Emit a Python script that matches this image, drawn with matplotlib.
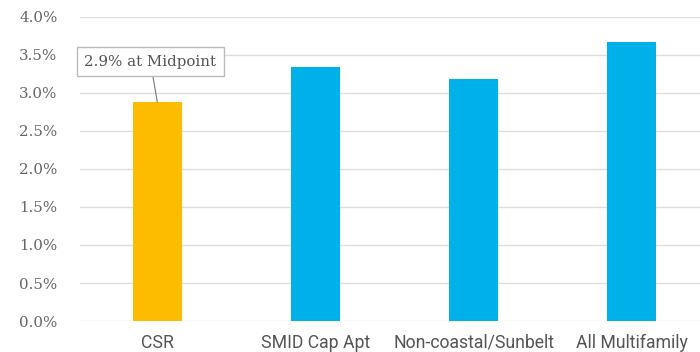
import matplotlib
matplotlib.use("Agg")
import matplotlib.pyplot as plt
from matplotlib import font_manager

CATEGORIES = ["CSR", "SMID Cap Apt", "Non-coastal/Sunbelt", "All Multifamily"]
VALUES = [2.88, 3.34, 3.18, 3.67]
COLORS = ["#FDBC00", "#00B0E8", "#00B0E8", "#00B0E8"]
YTICKS = [0.0, 0.5, 1.0, 1.5, 2.0, 2.5, 3.0, 3.5, 4.0]
NOTE = "2.9% at Midpoint"

names = {f.name for f in font_manager.fontManager.ttflist}
x_font = "Liberation Sans Narrow" if "Liberation Sans Narrow" in names else "Roboto"

fig = plt.figure(figsize=(7.0, 3.52), dpi=100)
ax = fig.add_axes([0.114, 0.088, 0.886, 0.864])

x = list(range(len(CATEGORIES)))
ax.bar(x, VALUES, width=0.31, color=COLORS, zorder=3)

ax.set_xlim(-0.49, 3.43)
ax.set_ylim(0, 4.0)
ax.set_yticks(YTICKS)
ax.set_yticklabels([f"{v:.1f}%" for v in YTICKS], family="DejaVu Serif",
                   fontsize=10.8, color="#666666")
ax.set_xticks(x)
ax.set_xticklabels(CATEGORIES, family=x_font, fontsize=12.7, color="#555555")
ax.tick_params(axis="both", length=0)
ax.tick_params(axis="x", pad=9)
ax.tick_params(axis="y", pad=16)
ax.grid(axis="y", color="#dddddd", lw=1, zorder=0)
for s in ax.spines.values():
    s.set_visible(False)

ax.annotate(NOTE, xy=(0.0, VALUES[0]), xytext=(-0.044, 3.41),
            ha="center", va="center", family="DejaVu Serif", fontsize=10.8,
            color="#555555",
            bbox=dict(boxstyle="square,pad=0.5", fc="white", ec="#bbbbbb", lw=1),
            arrowprops=dict(arrowstyle="-", color="#777777", lw=0.8,
                            shrinkA=0, shrinkB=0))

fig.savefig("out.png", dpi=100)
